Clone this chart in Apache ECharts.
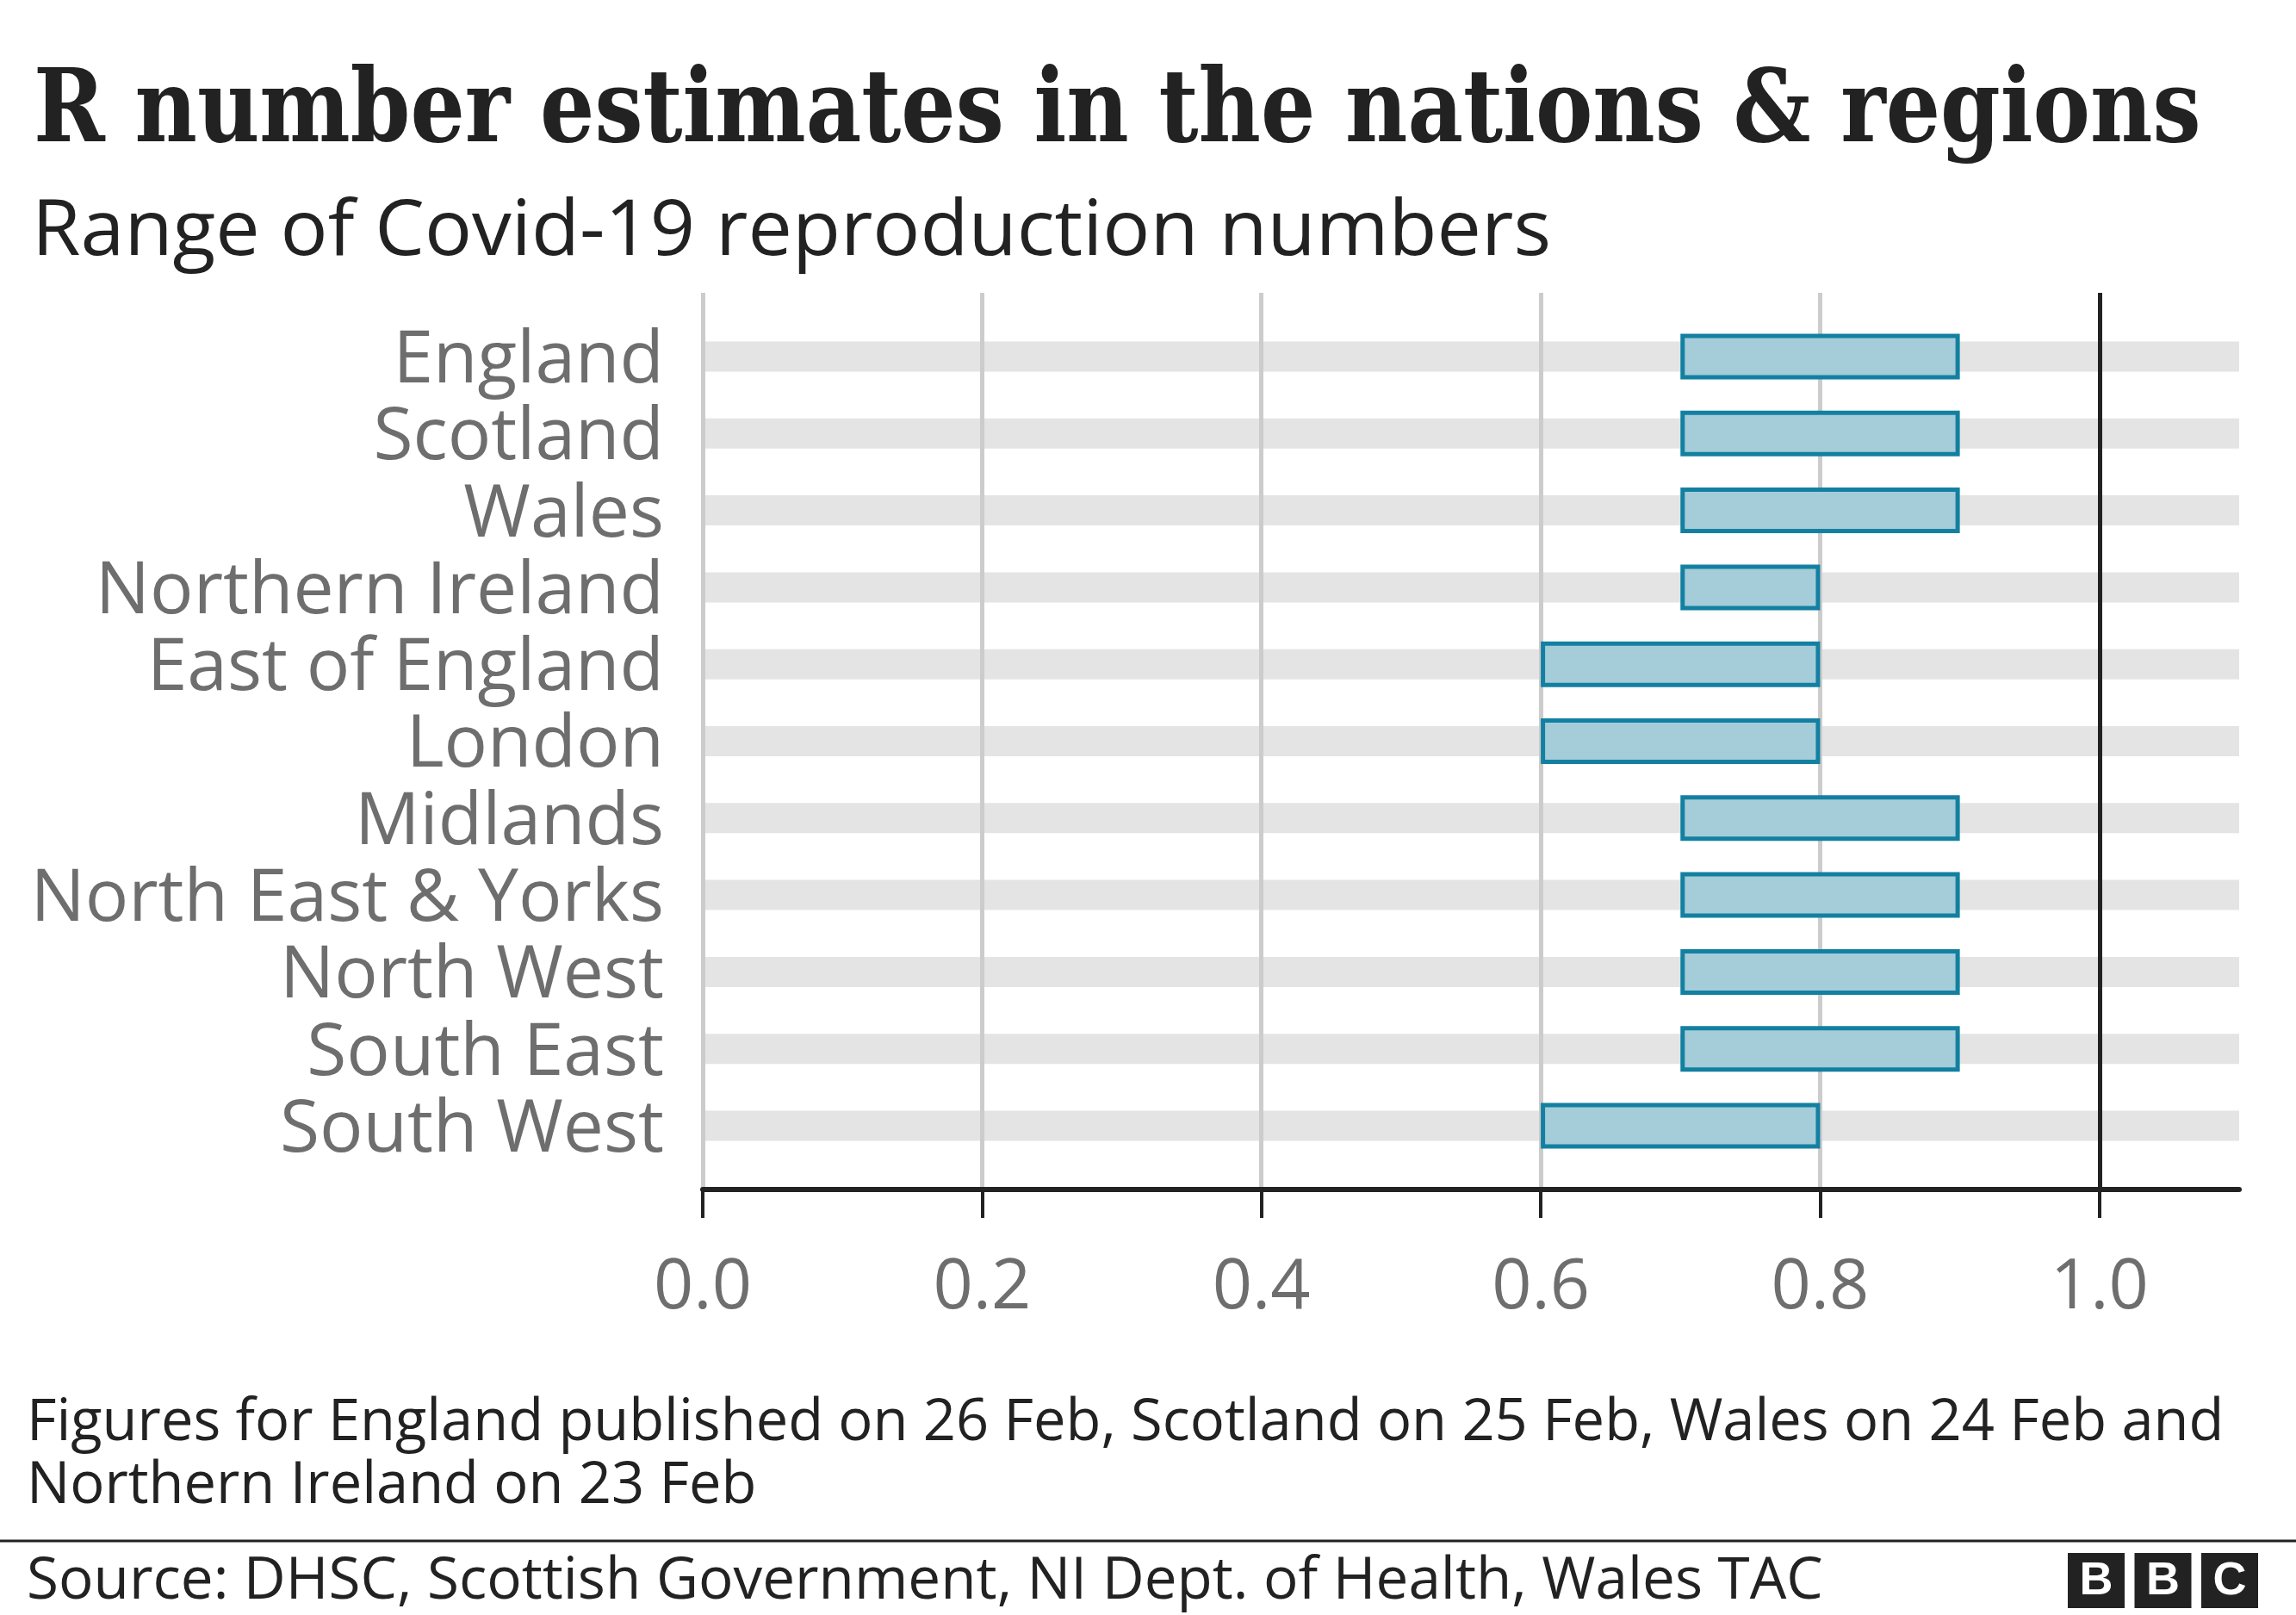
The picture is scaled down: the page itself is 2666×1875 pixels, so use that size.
<!DOCTYPE html>
<html><head><meta charset="utf-8">
<script src="https://cdn.jsdelivr.net/npm/echarts@6/dist/echarts.min.js"></script>
<style>html,body{margin:0;padding:0;background:#fff}#c{width:2666px;height:1875px}</style>
</head><body><div id="c"></div>
<script>
// ---- data ----
const categories = ['England','Scotland','Wales','Northern Ireland','East of England','London','Midlands','North East & Yorks','North West','South East','South West'];
const lowValues  = [0.7,0.7,0.7,0.7,0.6,0.6,0.7,0.7,0.7,0.7,0.6];
const highValues = [0.9,0.9,0.9,0.8,0.8,0.8,0.9,0.9,0.9,0.9,0.8];
const xTicks = [0, 0.2, 0.4, 0.6, 0.8, 1.0];
const xMax = 1.1;
const referenceR = 1.0;
const titleText = 'R number estimates in the nations & regions';
const subtitleText = 'Range of Covid-19 reproduction numbers';
const noteLines = ['Figures for England published on 26 Feb, Scotland on 25 Feb, Wales on 24 Feb and', 'Northern Ireland on 23 Feb'];
const sourceText = 'Source: DHSC, Scottish Government, NI Dept. of Health, Wales TAC';

// ---- derived ----
const spans = highValues.map((h, i) => +(h - lowValues[i]).toFixed(2));
const bandValues = categories.map(() => xMax);

const SANS = '"Open Sans"';
const measureCtx = document.createElement('canvas').getContext('2d');
function fitScale(text, font, target) {
  measureCtx.font = font;
  const m = measureCtx.measureText(text);
  const w = m.actualBoundingBoxLeft + m.actualBoundingBoxRight;
  return target / w;
}
const titleFont = 'bold 117px "DejaVu Serif"';
const subFont = '90px ' + SANS;
const noteFont = '68px ' + SANS;
const titleScale = fitScale(titleText, titleFont, 2509);
const subScale = fitScale(subtitleText, subFont, 1752);
const noteScale = fitScale(noteLines[0], noteFont, 2540);
const srcScale = fitScale(sourceText, noteFont, 2081);

const plotLeft = 816, plotWidth = 1784;
const catTop = 369.35, catHeight = 982.3;
const labelShift = 6;

const chart = echarts.init(document.getElementById('c'), null, {renderer: 'canvas'});
const labelColor = '#6e6e6e';

function textEl(text, x, y, font, fill, scaleX) {
  return { type: 'text', x: x, y: y, scaleX: scaleX, scaleY: 1, z: 10,
    style: { text: text, font: font, fill: fill, align: 'left', verticalAlign: 'middle' } };
}

const logoEls = [];
['B','B','C'].forEach((ch, i) => {
  const x0 = 2401 + i * 77.5;
  logoEls.push({ type: 'rect', shape: { x: x0, y: 1803, width: 66, height: 64 }, style: { fill: '#222' }, z: 10 });
  logoEls.push({ type: 'text', x: x0 + 33, y: 1836, z: 11,
    style: { text: ch, font: 'bold 54px "Liberation Sans"', fill: '#fff', align: 'center', verticalAlign: 'middle' } });
});

chart.setOption({
  animation: false,
  backgroundColor: '#fff',
  grid: [
    { left: plotLeft, width: plotWidth, top: 340, height: 1041, containLabel: false },
    { left: plotLeft, width: plotWidth, top: catTop, height: catHeight, containLabel: false },
    { left: plotLeft, width: plotWidth, top: catTop, height: catHeight, containLabel: false },
    { left: plotLeft, width: plotWidth, top: catTop + labelShift, height: catHeight, containLabel: false }
  ],
  xAxis: [
    { gridIndex: 0, type: 'value', min: 0, max: xMax, interval: 0.2, z: 2,
      axisLine: { show: true, lineStyle: { color: '#222', width: 6 } },
      axisTick: { show: true, length: 33, customValues: xTicks, lineStyle: { color: '#222', width: 4 } },
      axisLabel: { show: true, customValues: xTicks, formatter: v => v.toFixed(1), fontSize: 81,
        fontFamily: SANS, color: labelColor, margin: 74 },
      splitLine: { show: true, showMaxLine: false, lineStyle: { color: '#cccccc', width: 5 } } },
    { gridIndex: 1, type: 'value', min: 0, max: xMax, show: false },
    { gridIndex: 2, type: 'value', min: 0, max: xMax, show: false },
    { gridIndex: 3, type: 'value', min: 0, max: xMax, show: false }
  ],
  yAxis: [
    { gridIndex: 0, type: 'value', min: 0, max: 1, show: false },
    { gridIndex: 1, type: 'category', data: categories, inverse: true, show: false },
    { gridIndex: 2, type: 'category', data: categories, inverse: true, show: false },
    { gridIndex: 3, type: 'category', data: categories, inverse: true,
      axisLine: { show: false }, axisTick: { show: false }, splitLine: { show: false },
      axisLabel: { interval: 0, fontSize: 84, fontFamily: SANS, color: labelColor, margin: 45 } }
  ],
  series: [
    { name: 'band', type: 'bar', xAxisIndex: 1, yAxisIndex: 1, data: bandValues, barWidth: 35,
      itemStyle: { color: '#e4e4e4' }, silent: true, z: 1 },
    { name: 'ref', type: 'line', xAxisIndex: 0, yAxisIndex: 0, data: [], silent: true, z: 2,
      markLine: { silent: true, symbol: 'none', label: { show: false },
        lineStyle: { color: '#222', width: 5, type: 'solid' }, data: [{ xAxis: referenceR }] } },
    { name: 'base', type: 'bar', xAxisIndex: 2, yAxisIndex: 2, stack: 'r', data: lowValues, barWidth: 53,
      itemStyle: { color: 'rgba(0,0,0,0)' }, silent: true, z: 3 },
    { name: 'range', type: 'bar', xAxisIndex: 2, yAxisIndex: 2, stack: 'r', data: spans, barWidth: 53,
      itemStyle: { color: '#a4cdd9', borderColor: '#1380a1', borderWidth: 5 }, z: 3 }
  ],
  graphic: [
    textEl(titleText, 39, 134, titleFont, '#222', titleScale),
    textEl(subtitleText, 37, 270, subFont, '#222', subScale),
    textEl(noteLines[0], 31, 1653, noteFont, '#222', noteScale),
    textEl(noteLines[1], 31, 1726, noteFont, '#222', noteScale),
    textEl(sourceText, 31, 1837, noteFont, '#222', srcScale),
    { type: 'line', shape: { x1: 0, y1: 1789, x2: 2666, y2: 1789 }, style: { stroke: '#222', lineWidth: 3 }, z: 10 }
  ].concat(logoEls)
});
</script></body></html>
